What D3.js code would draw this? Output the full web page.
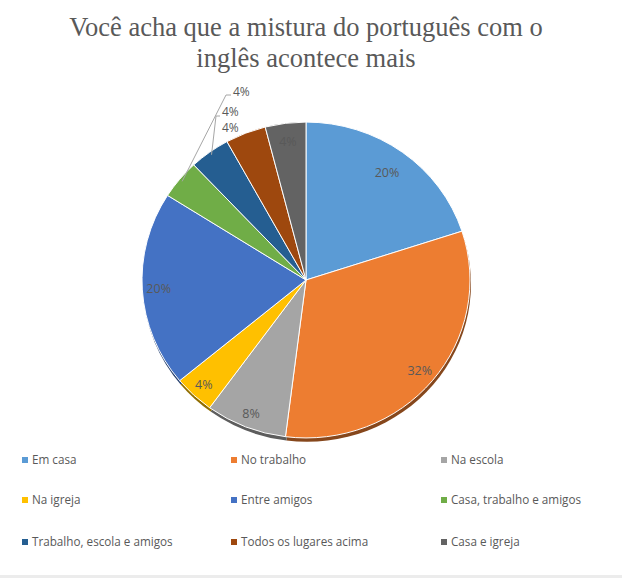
<!DOCTYPE html>
<html>
<head>
<meta charset="utf-8">
<script src="https://cdn.jsdelivr.net/npm/d3@7"></script>
<style>
  body { margin: 0; background: #fff; }
  svg { display: block; }
</style>
</head>
<body>
<div id="vis"></div>
<script>
const visWidth = 622;
const visHeight = 578;

const titleLines = ['Você acha que a mistura do português com o', 'inglês acontece mais'];

const categories = [
  'Em casa', 'No trabalho', 'Na escola',
  'Na igreja', 'Entre amigos', 'Casa, trabalho e amigos',
  'Trabalho, escola e amigos', 'Todos os lugares acima', 'Casa e igreja'
];
const values = [20, 32, 8, 4, 20, 4, 4, 4, 4];
const colors = [
  '#5b9bd5', '#ed7d31', '#a5a5a5',
  '#ffc000', '#4472c4', '#70ad47',
  '#255e91', '#9e480e', '#636363'
];

const cx = 306;
const cy = 280;
const radius = 164;
const squash = 0.963;

const svg = d3.select('#vis').append('svg')
    .attr('width', visWidth)
    .attr('height', visHeight);

// title
svg.append('text')
    .attr('x', 306)
    .attr('y', 36)
    .attr('text-anchor', 'middle')
    .attr('font-family', '"Liberation Serif", "Times New Roman", serif')
    .attr('font-size', 26.5)
    .attr('fill', '#595959')
  .selectAll('tspan')
  .data(titleLines)
  .join('tspan')
    .attr('x', 306)
    .attr('dy', (d, i) => i === 0 ? 0 : 31)
    .text(d => d);

const data = categories.map((c, i) => ({name: c, value: values[i], color: colors[i]}));

const pie = d3.pie()
    .sort(null)
    .value(d => d.value);

const arcs = pie(data);

const arc = d3.arc()
    .innerRadius(0)
    .outerRadius(radius);

const pieG = svg.append('g')
    .attr('transform', `translate(${cx}, ${cy}) scale(1, ${squash})`);

// soft drop shadow under the bottom rim
pieG.append('g')
    .attr('transform', 'translate(1, 4)')
  .selectAll('path')
  .data(arcs)
  .join('path')
    .attr('d', arc)
    .attr('fill', d => d3.color(d.data.color).darker(1.6));

pieG.append('g')
  .selectAll('path')
  .data(arcs)
  .join('path')
    .attr('d', arc)
    .attr('fill', d => d.data.color)
    .attr('stroke', '#fff')
    .attr('stroke-width', 1);

// point on the (squashed) pie at angle a and radius r, in page coords
function pt(a, r) {
  return [cx + Math.sin(a) * r, cy - Math.cos(a) * r * squash];
}

const fmt = d => `${d}%`;
const labelFont = '"Open Sans", "Noto Sans", sans-serif';

// slices labelled outside, with leader lines
const outside = {
  5: {tx: 233, ty: 92, bend: [226, 95]},
  6: {tx: 222, ty: 112, bend: [216, 116]},
  7: {tx: 222, ty: 128, bend: null}
};

const inside = arcs.filter((d, i) => !outside[i]);
const labelR = [0.84, 0.9, 0.91, 0.91, 0.9, 0, 0, 0, 0.88];

svg.append('g')
  .selectAll('text')
  .data(inside)
  .join('text')
    .attr('x', d => pt((d.startAngle + d.endAngle) / 2, radius * labelR[d.index])[0])
    .attr('y', d => pt((d.startAngle + d.endAngle) / 2, radius * labelR[d.index])[1])
    .attr('dy', '0.35em')
    .attr('text-anchor', 'middle')
    .attr('font-family', labelFont)
    .attr('font-size', 12.5)
    .attr('fill', '#595959')
    .text(d => fmt(d.data.value));

const outG = svg.append('g');
arcs.filter((d, i) => outside[i]).forEach(d => {
  const o = outside[d.index];
  const mid = (d.startAngle + d.endAngle) / 2;
  if (o.bend) {
    const p0 = pt(mid, radius * 0.98);
    outG.append('polyline')
        .attr('points', [p0, o.bend, [o.tx - 2, o.bend[1]]].map(p => p.join(',')).join(' '))
        .attr('fill', 'none')
        .attr('stroke', '#a6a6a6')
        .attr('stroke-width', 1);
  }
  outG.append('text')
      .attr('x', o.tx)
      .attr('y', o.ty)
      .attr('dy', '0.35em')
      .attr('font-family', labelFont)
      .attr('font-size', 12)
      .attr('fill', '#595959')
      .text(fmt(d.data.value));
});

// legend: 3 columns x 3 rows
const colX = [22, 231, 441];
const rowY = [460, 500, 542];

const legend = svg.append('g')
  .selectAll('g')
  .data(data)
  .join('g')
    .attr('transform', (d, i) => `translate(${colX[i % 3]}, ${rowY[Math.floor(i / 3)]})`);

legend.append('rect')
    .attr('x', 0)
    .attr('y', -3)
    .attr('width', 6)
    .attr('height', 6)
    .attr('fill', d => d.color);

legend.append('text')
    .attr('x', 10)
    .attr('dy', '0.35em')
    .attr('font-family', labelFont)
    .attr('font-size', 11.7)
    .attr('fill', '#595959')
    .text(d => d.name);

// faint frame edge at the bottom
svg.append('rect')
    .attr('x', 0)
    .attr('y', 575)
    .attr('width', visWidth)
    .attr('height', 3)
    .attr('fill', '#ececec');
</script>
</body>
</html>
